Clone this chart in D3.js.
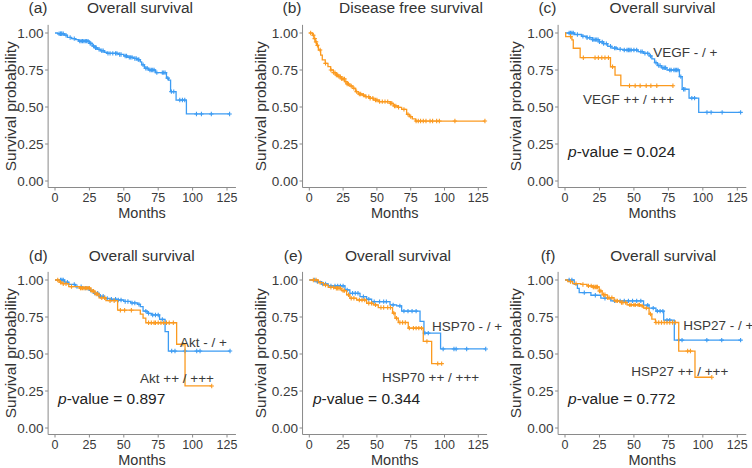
<!DOCTYPE html>
<html>
<head>
<meta charset="utf-8">
<script src="https://cdn.jsdelivr.net/npm/d3@7.9.0/dist/d3.min.js"></script>
<style>
body { margin: 0; background: #fff; }
svg text { font-family: "Liberation Sans", Arial, sans-serif; fill: #333; }
</style>
</head>
<body>
<svg id="chart" width="752" height="468"></svg>
<script>
// ---- data (months, survival probability) ----
const xTicks = [0, 25, 50, 75, 100, 125];
const yTicks = [0, 0.25, 0.5, 0.75, 1];

// (a) overall survival, all patients
const aTime = [0, 2, 7, 9, 12, 15, 17, 25, 27, 29, 31, 33, 36, 38, 46, 50, 53, 57, 60, 62, 63, 65, 68, 73, 81, 82.5, 84, 88, 95.5];
const aSurv = [1, 0.995, 0.985, 0.97, 0.962, 0.955, 0.945, 0.93, 0.912, 0.9, 0.89, 0.88, 0.87, 0.862, 0.855, 0.845, 0.835, 0.828, 0.82, 0.805, 0.785, 0.762, 0.75, 0.732, 0.695, 0.682, 0.604, 0.547, 0.453];
const aCens = [3, 4, 4.5, 5, 6, 8, 11, 14, 18, 19, 20, 21, 22, 23, 24, 25.5, 26, 28, 29.5, 30, 32, 34, 35, 38.5, 40, 42, 44, 45, 47, 48, 51, 52, 54, 55, 56, 58, 59, 60.5, 61, 64, 66, 67, 69, 70, 71, 72, 74, 78, 79, 80, 82, 84.6, 86.3, 90.7, 92.6, 94.3, 102.8, 106.4, 113.6, 126.9];
const aEnd = 126.9;

// (b) disease free survival
const bTime = [0, 2.5, 3.5, 4.4, 5.4, 6.7, 8.4, 9.6, 11.8, 13.8, 15.8, 17.8, 19.7, 21.7, 23.9, 26.1, 28, 30, 32.3, 34.3, 36.2, 39.2, 41.4, 44.4, 47.6, 51.8, 59.9, 62.1, 65.3, 68.3, 72, 74, 76.2, 78.6];
const bSurv = [1, 0.985, 0.962, 0.94, 0.917, 0.885, 0.85, 0.818, 0.795, 0.773, 0.75, 0.732, 0.716, 0.705, 0.69, 0.671, 0.655, 0.642, 0.626, 0.604, 0.588, 0.58, 0.57, 0.559, 0.547, 0.536, 0.525, 0.507, 0.498, 0.484, 0.45, 0.435, 0.42, 0.405];
const bCens = [1, 3, 4, 5, 6, 8, 12, 16, 18, 19, 20, 21, 22, 23, 24, 25, 26, 27, 28, 29, 31, 33, 35, 37, 38, 40, 42, 44, 45, 47, 49, 50, 52, 54, 56, 58, 60, 61, 63, 64, 66, 70, 73, 75, 79, 80.6, 82.3, 84.3, 86.3, 89.3, 91.2, 94.2, 96.2, 107.7, 129.9];
const bEnd = 129.9;

// (c) VEGF
const cLowTime = [0, 7, 12, 16, 20, 25, 28, 31, 34, 38, 42, 53, 57, 61, 63, 65, 67, 70, 74, 83, 85, 90, 97];
const cLowSurv = [1, 0.99, 0.978, 0.968, 0.955, 0.94, 0.928, 0.91, 0.898, 0.89, 0.885, 0.874, 0.862, 0.845, 0.825, 0.8, 0.78, 0.765, 0.75, 0.705, 0.62, 0.56, 0.464];
const cLowCens = [3, 4, 5, 6, 9, 13, 16, 18, 20, 21, 22, 23, 24, 25, 27, 28, 30, 33, 36, 37, 40, 43, 45, 46, 47, 48, 50, 52, 55, 56, 58, 60, 62, 66, 68, 69, 71, 72, 73, 76, 77, 79, 80, 81, 82, 84, 86, 87, 92, 94, 103, 106, 114, 127.4];
const cLowEnd = 127.4;
const cHighTime = [0, 0.5, 5, 6, 11, 33, 36.3, 40.5];
const cHighSurv = [1, 0.976, 0.953, 0.897, 0.833, 0.772, 0.716, 0.644];
const cHighCens = [4, 13.3, 21.8, 24.2, 26.7, 29, 31.5, 34.5, 46.8, 50.9, 54.5, 58.9, 62.3, 66.6, 78.3];
const cHighEnd = 78.5;

// (d) Akt
const dLowTime = [0, 7, 10, 15, 20, 25, 28, 32, 36, 40, 45, 50, 55, 60, 62, 64, 67, 70, 76, 80, 82.4];
const dLowSurv = [1, 0.985, 0.97, 0.955, 0.945, 0.93, 0.91, 0.89, 0.875, 0.87, 0.865, 0.855, 0.845, 0.835, 0.82, 0.79, 0.775, 0.764, 0.734, 0.651, 0.52];
const dLowCens = [4, 5, 6, 9, 14, 16, 19, 22, 24, 26, 29, 31, 33, 35, 38, 41, 44, 46, 48, 51, 53, 56, 58, 61, 66, 68, 71, 73, 75, 78, 84.8, 87.2, 94.5, 103, 105.4, 127.2];
const dLowEnd = 127.2;
const dHighTime = [0, 3, 5, 10, 18, 26, 29, 32, 37, 45.5, 62, 64, 66, 88.4, 94.5];
const dHighSurv = [1, 0.985, 0.975, 0.955, 0.945, 0.925, 0.905, 0.88, 0.86, 0.796, 0.77, 0.742, 0.711, 0.566, 0.284];
const dHighCens = [2, 4, 6, 8, 12, 18.5, 19, 20, 21, 22, 23, 24, 25, 27, 28, 30, 31, 34, 36, 40, 43, 47.5, 50.6, 55.5, 68, 70, 72, 73, 75, 77, 79, 81, 83, 86, 93, 113.9];
const dHighEnd = 113.9;

// (e) HSP70
const eLowTime = [0, 5.4, 9.1, 14, 26.4, 30, 37.5, 42.4, 46.1, 59.7, 64.6, 68.3, 81.9, 84.8, 97.1];
const eLowSurv = [1, 0.989, 0.973, 0.96, 0.933, 0.91, 0.888, 0.87, 0.854, 0.832, 0.825, 0.79, 0.72, 0.641, 0.534];
const eLowCens = [4, 6, 10, 12, 16, 19, 21, 23, 25, 28, 32, 34, 36, 40, 44, 48, 52, 55, 57, 62, 67, 70, 73, 76, 79, 85.5, 88, 99, 107, 108.6, 116.4, 130.5];
const eLowEnd = 130.5;
const eHighTime = [0, 6.7, 10.4, 14, 19, 24, 27.6, 30, 35, 42.4, 47.3, 51, 61.6, 63.4, 65.8, 73.2, 84.3, 90.5];
const eHighSurv = [1, 0.982, 0.966, 0.95, 0.944, 0.928, 0.9, 0.877, 0.865, 0.843, 0.832, 0.814, 0.776, 0.742, 0.713, 0.675, 0.585, 0.435];
const eHighCens = [3, 5, 8, 12, 16, 18, 20, 21, 22, 23, 25, 26, 29, 31, 33, 37, 39, 41, 44, 46, 49, 53, 55, 58, 60, 62.5, 64.5, 67, 69, 71, 74, 77, 79, 81, 83, 87, 95, 97.9];
const eHighEnd = 97.9;

// (f) HSP27
const fLowTime = [0, 6.7, 9, 10.3, 18.8, 26, 33.2, 57, 61, 66, 71.6, 79.3];
const fLowSurv = [1, 0.97, 0.944, 0.915, 0.897, 0.877, 0.859, 0.83, 0.81, 0.79, 0.729, 0.594];
const fLowCens = [3, 5, 14, 22, 29, 36, 40, 43, 46, 49, 52, 55, 60, 64, 67, 69, 71, 74, 76, 82.5, 84.9, 102.9, 113.7, 127.4];
const fLowEnd = 127.4;
const fHighTime = [0, 2, 5.5, 11.5, 16, 20, 24.8, 27, 30.8, 35.6, 40, 45, 55, 57, 61, 63, 65.6, 82.5, 94.3];
const fHighSurv = [1, 0.99, 0.975, 0.97, 0.96, 0.953, 0.926, 0.9, 0.88, 0.859, 0.848, 0.832, 0.825, 0.81, 0.77, 0.735, 0.713, 0.52, 0.343];
const fHighCens = [4, 8, 13, 17, 19, 20.5, 21, 22, 23, 23.5, 25, 26, 28, 29, 31, 32, 34, 37, 38, 41, 42, 44, 47, 48, 50, 51, 53, 54, 56, 59, 62, 66, 68, 70, 72, 74, 76, 78, 80, 89, 91, 106.5];
const fHighEnd = 106.5;

const blue = '#3d9cf3';
const orange = '#fb9a20';

// ---- layout ----
const cols = [
    { x0: 55, x125: 227, yLab: 10 },
    { x0: 309.3, x125: 478.3, yLab: 260 },
    { x0: 565, x125: 737.3, yLab: 515.5 },
];
const rows = [
    { top: 33, bot: 181, titleY: 12.7 },
    { top: 280, bot: 428, titleY: 261 },
];

const curve = (time, surv, cens, end, color) => ({ time, surv, cens, end, color });

const panels = [
    { col: 0, row: 0, tag: '(a)', tagX: 38, title: 'Overall survival', titleX: 140,
      curves: [curve(aTime, aSurv, aCens, aEnd, blue)] },
    { col: 1, row: 0, tag: '(b)', tagX: 292, title: 'Disease free survival', titleX: 411,
      curves: [curve(bTime, bSurv, bCens, bEnd, orange)] },
    { col: 2, row: 0, tag: '(c)', tagX: 547.5, title: 'Overall survival', titleX: 662.5,
      curves: [curve(cLowTime, cLowSurv, cLowCens, cLowEnd, blue), curve(cHighTime, cHighSurv, cHighCens, cHighEnd, orange)],
      pval: '0.024', pAt: [2.2, 0.162],
      labels: [['VEGF - / +', 64, 0.838], ['VEGF ++ / +++', 13.1, 0.52]] },
    { col: 0, row: 1, tag: '(d)', tagX: 38.3, title: 'Overall survival', titleX: 141.7,
      curves: [curve(dLowTime, dLowSurv, dLowCens, dLowEnd, blue), curve(dHighTime, dHighSurv, dHighCens, dHighEnd, orange)],
      pval: '0.897', pAt: [2.2, 0.162],
      labels: [['Akt - / +', 90.8, 0.547], ['Akt ++ / +++', 61.8, 0.304]] },
    { col: 1, row: 1, tag: '(e)', tagX: 293.3, title: 'Overall survival', titleX: 398,
      curves: [curve(eLowTime, eLowSurv, eLowCens, eLowEnd, blue), curve(eHighTime, eHighSurv, eHighCens, eHighEnd, orange)],
      pval: '0.344', pAt: [2.7, 0.162],
      labels: [['HSP70 - / +', 90.8, 0.655], ['HSP70 ++ / +++', 53.8, 0.311]] },
    { col: 2, row: 1, tag: '(f)', tagX: 548, title: 'Overall survival', titleX: 663.3,
      curves: [curve(fLowTime, fLowSurv, fLowCens, fLowEnd, blue), curve(fHighTime, fHighSurv, fHighCens, fHighEnd, orange)],
      pval: '0.772', pAt: [2.2, 0.162],
      labels: [['HSP27 - / +', 85.8, 0.662], ['HSP27 ++ / +++', 48, 0.351]] },
];

const svg = d3.select('#chart');
const axisColor = '#8a8a8a';

panels.forEach((p) => {
    const c = cols[p.col];
    const r = rows[p.row];
    const x = d3.scaleLinear().domain([0, 125]).range([c.x0, c.x125]);
    const y = d3.scaleLinear().domain([0, 1]).range([r.bot, r.top]);
    const g = svg.append('g');

    const axX = x(-5);
    const axY = y(-0.044);
    const axRight = x(131.5);
    const axTop = y(1.055);

    // axis lines
    g.append('line').attr('x1', axX).attr('x2', axX).attr('y1', axTop).attr('y2', axY)
        .attr('stroke', axisColor).attr('stroke-width', 1);
    g.append('line').attr('x1', axX).attr('x2', axRight).attr('y1', axY).attr('y2', axY)
        .attr('stroke', axisColor).attr('stroke-width', 1);

    // y ticks
    yTicks.forEach((t) => {
        g.append('line').attr('x1', axX - 3).attr('x2', axX).attr('y1', y(t)).attr('y2', y(t))
            .attr('stroke', axisColor);
        g.append('text').attr('x', axX - 4.5).attr('y', y(t)).attr('dy', '0.36em')
            .attr('text-anchor', 'end').attr('font-size', 13.5).style('fill', '#3a3a3a')
            .text(t.toFixed(2));
    });
    // x ticks
    xTicks.forEach((t) => {
        g.append('line').attr('x1', x(t)).attr('x2', x(t)).attr('y1', axY).attr('y2', axY + 3)
            .attr('stroke', axisColor);
        g.append('text').attr('x', x(t)).attr('y', axY + 14.3)
            .attr('text-anchor', 'middle').attr('font-size', 12.5).style('fill', '#3a3a3a')
            .text(t);
    });

    // axis titles
    g.append('text').attr('x', (axX + axRight) / 2).attr('y', axY + 30.2)
        .attr('text-anchor', 'middle').attr('font-size', 14.5).text('Months');
    const midY = (axTop + axY) / 2;
    g.append('text').attr('transform', `translate(${c.yLab},${midY}) rotate(-90)`)
        .attr('dy', '0.36em').attr('text-anchor', 'middle').attr('font-size', 15.5)
        .text('Survival probability');

    // panel tag & title
    g.append('text').attr('x', p.tagX).attr('y', r.titleY).attr('text-anchor', 'middle')
        .attr('font-size', 15.5).text(p.tag);
    g.append('text').attr('x', p.titleX).attr('y', r.titleY).attr('text-anchor', 'middle')
        .attr('font-size', 15.5).text(p.title);

    // curves
    const line = d3.line().x((d) => x(d[0])).y((d) => y(d[1])).curve(d3.curveStepAfter);
    p.curves.forEach((cv) => {
        const pts = cv.time.map((t, i) => [t, cv.surv[i]]);
        pts.push([cv.end, cv.surv[cv.surv.length - 1]]);
        g.append('path').attr('d', line(pts)).attr('fill', 'none')
            .attr('stroke', cv.color).attr('stroke-width', 1.3);

        const at = (t) => cv.surv[Math.max(0, d3.bisectRight(cv.time, t) - 1)];
        g.append('g').selectAll('path').data(cv.cens).join('path')
            .attr('d', (t) => {
                const cx = x(t), cy = y(at(t));
                return `M${cx - 2.2},${cy}H${cx + 2.2}M${cx},${cy - 2.2}V${cy + 2.2}`;
            })
            .attr('stroke', cv.color).attr('stroke-width', 1.1);
    });

    // annotations
    if (p.labels) {
        p.labels.forEach(([txt, mx, sy]) => {
            g.append('text').attr('x', x(mx)).attr('y', y(sy)).attr('font-size', 13.5)
                .style('fill', '#3a3a3a').text(txt);
        });
    }
    if (p.pval) {
        const t = g.append('text').attr('x', x(p.pAt[0])).attr('y', y(p.pAt[1]))
            .attr('font-size', 15.5).style('fill', '#222');
        t.append('tspan').attr('font-style', 'italic').text('p');
        t.append('tspan').text(`-value = ${p.pval}`);
    }
});
</script>
</body>
</html>
